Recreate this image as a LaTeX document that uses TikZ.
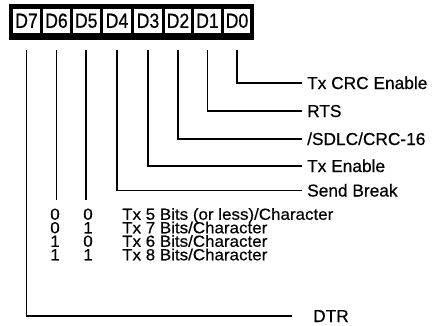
\documentclass[tikz,border=0pt]{standalone}
\usepackage{fontspec}
\setmainfont{Liberation Sans}[FakeBold=0.5]
\newfontfamily\cellfont{Liberation Sans}[FakeStretch=0.86,FakeBold=0.6]
\newfontfamily\rowfont{Liberation Sans}[FakeStretch=1.06,FakeBold=0.5]
\begin{document}
\begin{tikzpicture}[x=1pt,y=-1pt,
  cellbox/.style={fill=white,draw=none,minimum height=24.5pt,inner sep=0pt,
    font=\cellfont\fontsize{20.5}{20.5}\selectfont},
  lbl/.style={anchor=west,inner xsep=5pt,inner ysep=0pt,text height=12pt,text depth=0pt,
    font=\fontsize{17.3}{17.3}\selectfont},
  rowtxt/.style={inner xsep=1pt,inner ysep=0pt,text height=11.5pt,text depth=0pt,
    font=\rowfont\fontsize{16}{16}\selectfont},
  wire/.style={line width=1.6pt}]
\useasboundingbox (0,0) rectangle (438,325);
\fill[black] (9,3.5) rectangle (254,39.5);
\node[cellbox,minimum width=27pt]   (d7) at (26.5,20.75) {D7};
\node[cellbox,minimum width=27pt]   (d6) at (56.5,20.75) {D6};
\node[cellbox,minimum width=27.5pt] (d5) at (86.25,20.75) {D5};
\node[cellbox,minimum width=28pt]   (d4) at (117,20.75) {D4};
\node[cellbox,minimum width=28pt]   (d3) at (148,20.75) {D3};
\node[cellbox,minimum width=26pt]   (d2) at (178,20.75) {D2};
\node[cellbox,minimum width=27pt]   (d1) at (207.5,20.75) {D1};
\node[cellbox,minimum width=26pt]   (d0) at (237,20.75) {D0};

\node[lbl] (crc)  at (302,83)  {Tx CRC Enable};
\node[lbl] (rts)  at (302,111) {RTS};
\node[lbl] (sdlc) at (302,139) {/SDLC/CRC-16};
\node[lbl] (txen) at (302,166) {Tx Enable};
\node[lbl] (brk)  at (302,190.5) {Send Break};
\node[lbl,inner xsep=11pt] (dtr) at (302,316) {DTR};

\node[rowtxt] (a1) at (55,214)   {0};
\node[rowtxt] (b1) at (88,214)   {0};
\node[rowtxt,anchor=west] (t1) at (121,214) {Tx 5 Bits (or less)/Character};
\node[rowtxt] (a2) at (55,227.5) {0};
\node[rowtxt] (b2) at (88,227.5) {1};
\node[rowtxt,anchor=west] (t2) at (121,227.5) {Tx 7 Bits/Character};
\node[rowtxt] (a3) at (55,241)   {1};
\node[rowtxt] (b3) at (88,241)   {0};
\node[rowtxt,anchor=west] (t3) at (121,241) {Tx 6 Bits/Character};
\node[rowtxt] (a4) at (55,254.5) {1};
\node[rowtxt] (b4) at (88,254.5) {1};
\node[rowtxt,anchor=west] (t4) at (121,254.5) {Tx 8 Bits/Character};

\draw[wire] (d0.south) ++(0,17) |- (crc.west);
\draw[wire] (d1.south) ++(0,17) |- (rts.west);
\draw[wire] (d2.south) ++(0,17) |- (sdlc.west);
\draw[wire] (d3.south) ++(0,17) |- (txen.west);
\draw[wire] (d4.south) ++(0,17) |- (brk.west);
\draw[wire] (d5.south) ++(0,17) -- ++(0,150);
\draw[wire] (d6.south) ++(0,17) -- ++(0,150);
\draw[wire] (d7.south) ++(0,17) |- ([xshift=-10pt]dtr.west);
\end{tikzpicture}
\end{document}
